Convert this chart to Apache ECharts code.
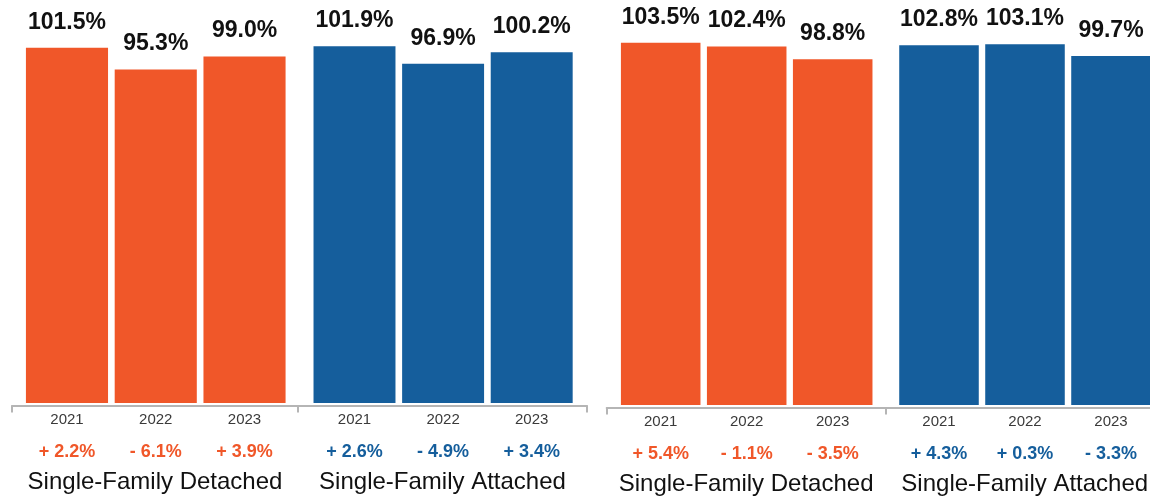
<!DOCTYPE html>
<html>
<head>
<meta charset="utf-8">
<script src="https://cdn.jsdelivr.net/npm/echarts@6/dist/echarts.min.js"></script>
<style>
  html, body { margin: 0; padding: 0; background: #fff; }
  #chart { width: 1150px; height: 497px; }
</style>
</head>
<body>
<div id="chart"></div>
<script>
// data
var years = ['2021', '2022', '2023']
var groupNames = ['Single-Family Detached', 'Single-Family Attached', 'Single-Family Detached', 'Single-Family Attached']
var leftDetached = [101.5, 95.3, 99.0]
var leftAttached = [101.9, 96.9, 100.2]
var rightDetached = [103.5, 102.4, 98.8]
var rightAttached = [102.8, 103.1, 99.7]
var leftDetachedChange = [2.2, -6.1, 3.9]
var leftAttachedChange = [2.6, -4.9, 3.4]
var rightDetachedChange = [5.4, -1.1, -3.5]
var rightAttachedChange = [4.3, 0.3, -3.3]

var ORANGE = '#f05729'
var BLUE = '#155e9c'
var FONT = '"Liberation Sans", Arial, Helvetica, sans-serif'

// layout of each group: bar area and the axis line under it
var groups = [
  {values: leftDetached, changes: leftDetachedChange, color: ORANGE, bar: [22.6, 288.9], line: [12, 298], base: 94, top: 18},
  {values: leftAttached, changes: leftAttachedChange, color: BLUE, bar: [310.2, 576], line: [298, 587], base: 94, top: 18},
  {values: rightDetached, changes: rightDetachedChange, color: ORANGE, bar: [617.7, 875.7], line: [606.7, 885.5], base: 92, top: 20},
  {values: rightAttached, changes: rightAttachedChange, color: BLUE, bar: [896, 1154], line: [885.5, 1164], base: 92, top: 20}
]

function fmtChange (v) {
  return (v < 0 ? '- ' : '+ ') + Math.abs(v).toFixed(1) + '%'
}

var grid = []
var xAxis = []
var yAxis = []
var series = []

groups.forEach(function (g, i) {
  var barIdx = i * 2
  var lineIdx = i * 2 + 1
  grid.push({left: g.bar[0], width: g.bar[1] - g.bar[0], top: g.top, bottom: g.base, outerBoundsMode: 'none'})
  grid.push({left: g.line[0], width: g.line[1] - g.line[0], top: g.top, bottom: g.base - 2.5, outerBoundsMode: 'none'})

  xAxis.push({
    type: 'category',
    gridIndex: barIdx,
    data: years,
    axisLine: {show: false},
    axisTick: {show: false},
    axisLabel: {
      margin: 7,
      formatter: function (val, idx) {
        return '{y|' + val + '}\n{c|' + fmtChange(g.changes[idx]) + '}'
      },
      rich: {
        y: {fontFamily: FONT, fontSize: 15, color: '#3a3a3a', lineHeight: 20},
        c: {fontFamily: FONT, fontSize: 18, fontWeight: 'bold', color: g.color, lineHeight: 44}
      }
    }
  })
  xAxis.push({
    type: 'category',
    gridIndex: lineIdx,
    data: [groupNames[i]],
    axisLine: {lineStyle: {color: '#b5b5b5', width: 2}},
    axisTick: {show: true, length: 7, lineStyle: {color: '#b5b5b5', width: 2}},
    axisLabel: {margin: 65, fontFamily: FONT, fontSize: 24, color: '#111'}
  })
  yAxis.push({type: 'value', gridIndex: barIdx, min: 0, max: 110, show: false})
  yAxis.push({type: 'value', gridIndex: lineIdx, min: 0, max: 110, show: false})

  series.push({
    type: 'bar',
    xAxisIndex: barIdx,
    yAxisIndex: barIdx,
    data: g.values,
    barCategoryGap: '7.5%',
    itemStyle: {color: g.color},
    label: {
      show: true,
      position: 'top',
      distance: 14,
      fontFamily: FONT,
      fontSize: 23,
      fontWeight: 'bold',
      color: '#111',
      formatter: function (p) {
        return p.value.toFixed(1) + '%'
      }
    },
    silent: true
  })
})

var chart = echarts.init(document.getElementById('chart'))
chart.setOption({
  animation: false,
  grid: grid,
  xAxis: xAxis,
  yAxis: yAxis,
  series: series
})
</script>
</body>
</html>
